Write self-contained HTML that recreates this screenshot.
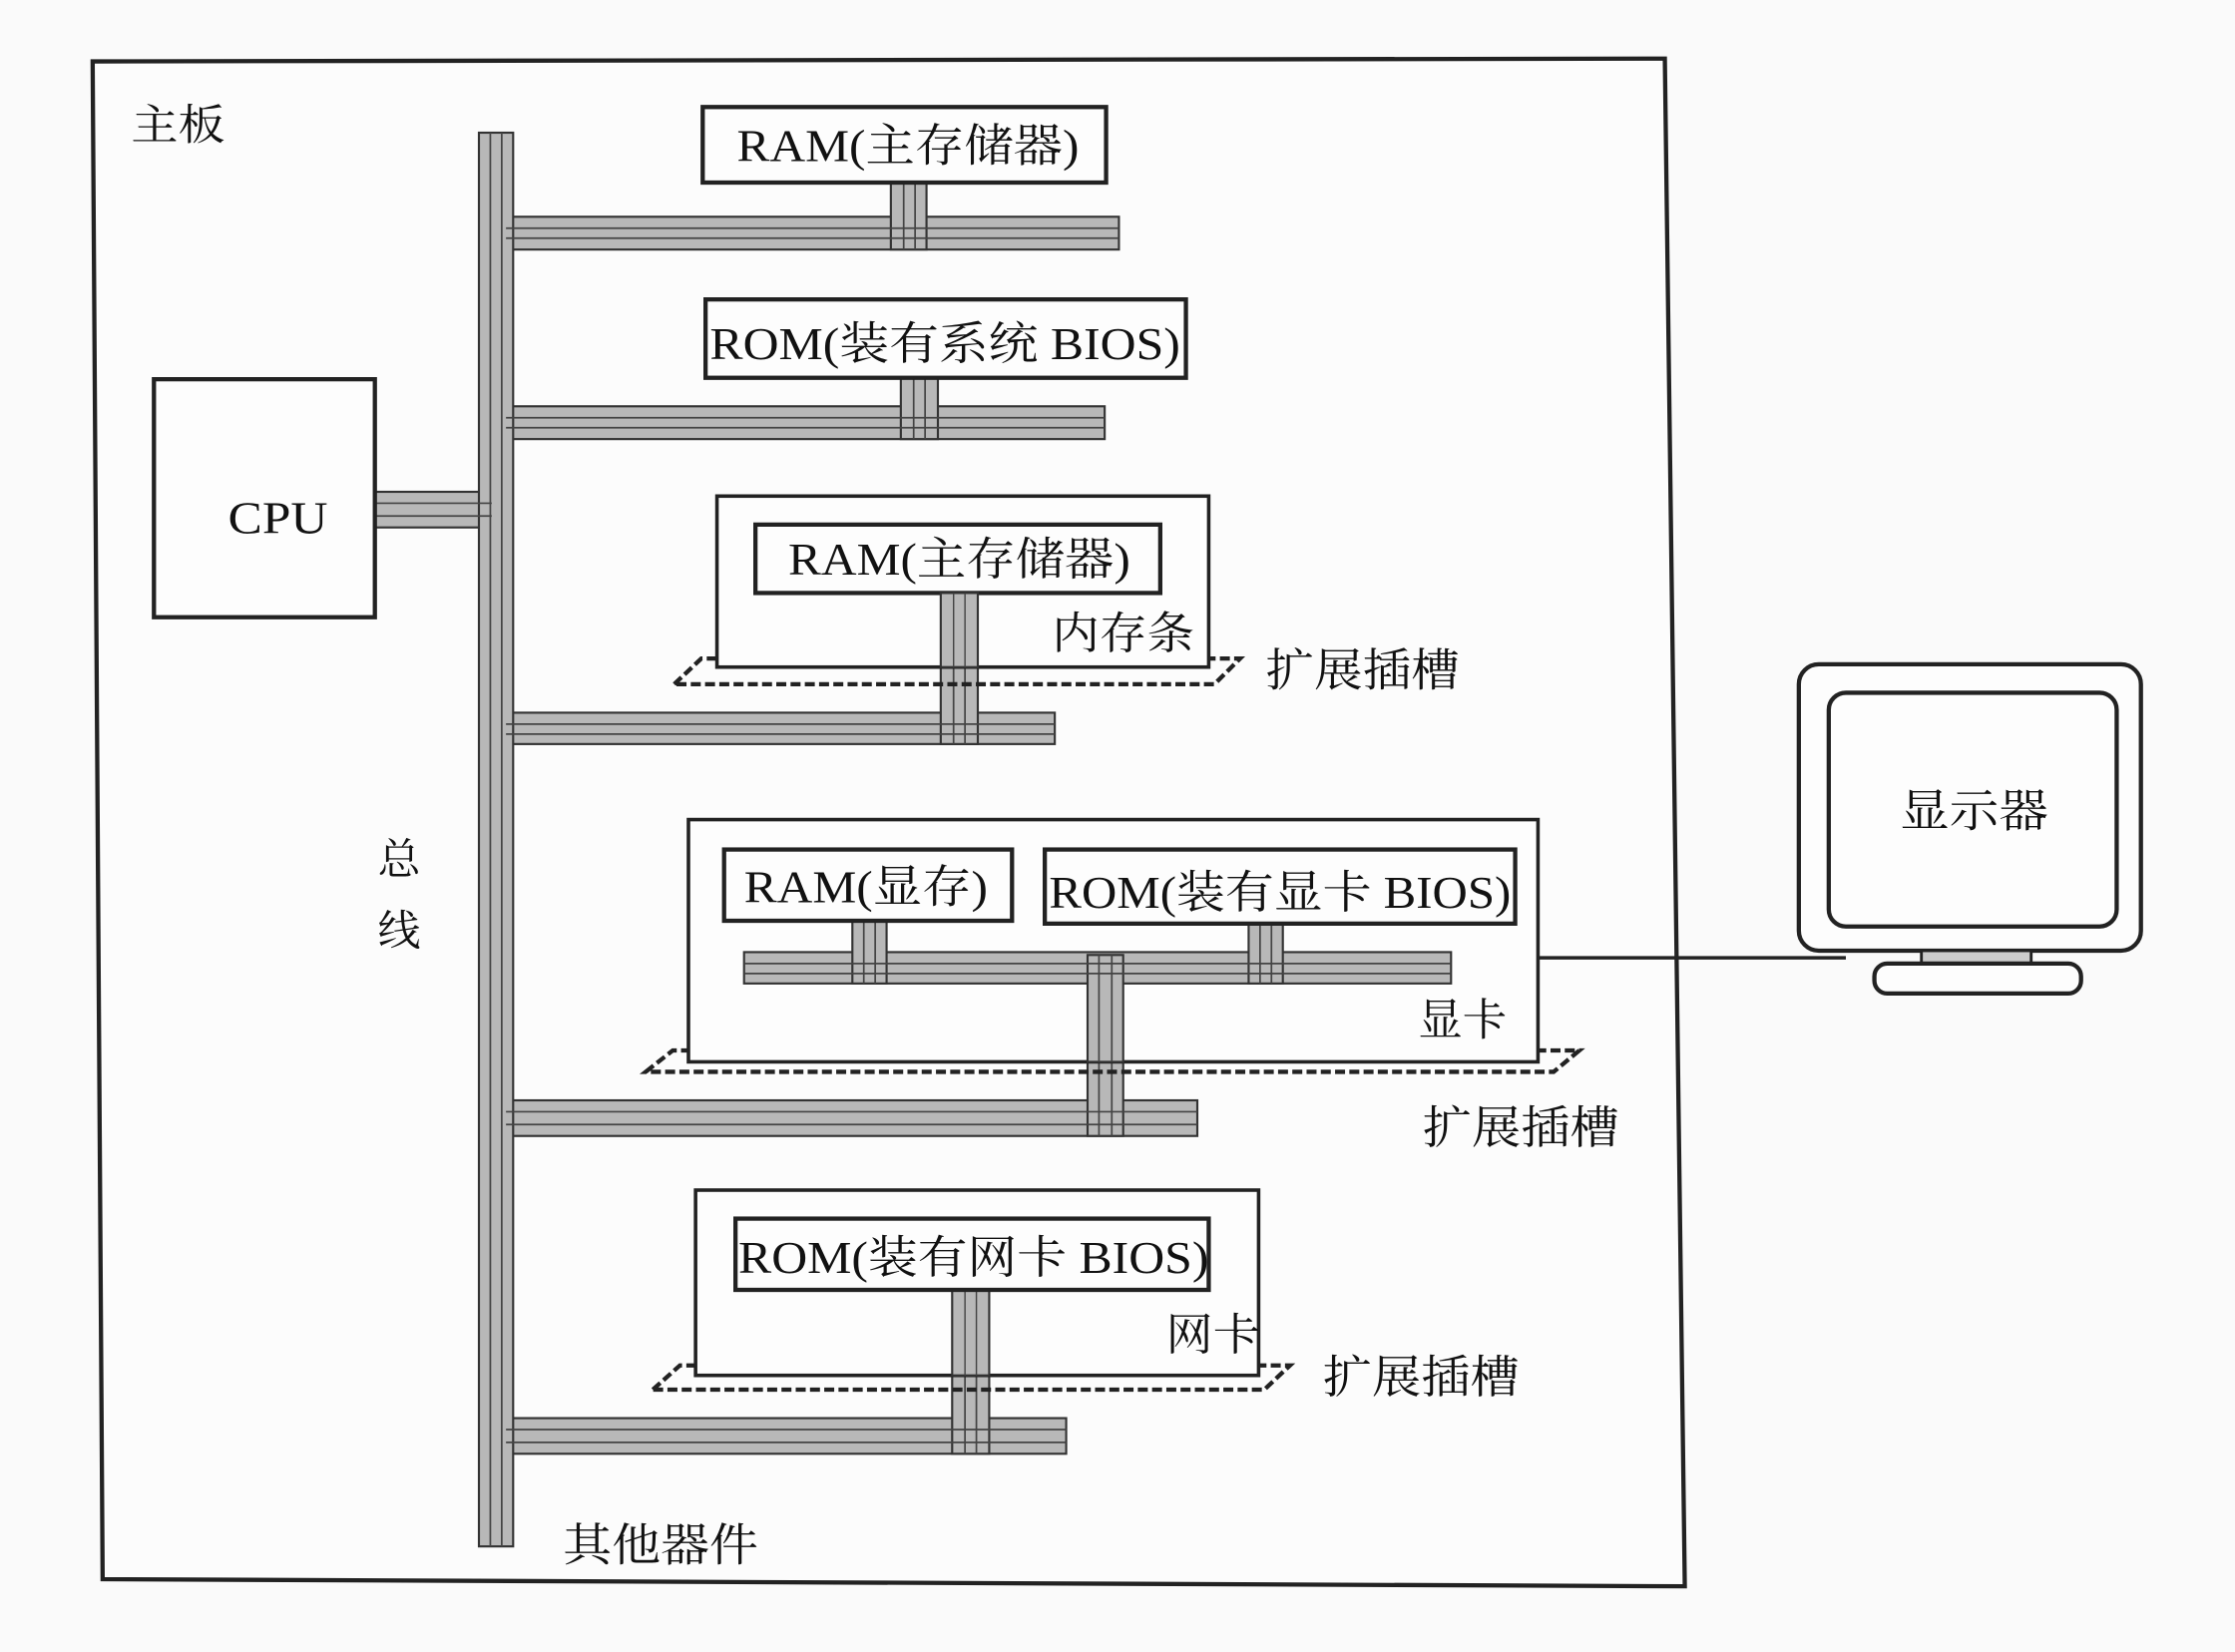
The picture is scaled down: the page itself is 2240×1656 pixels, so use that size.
<!DOCTYPE html>
<html><head><meta charset="utf-8">
<style>
html,body{margin:0;padding:0;background:#fafafa;}
svg{display:block;}
text{font-family:"Liberation Serif","Noto Serif CJK SC",serif;fill:#111;}
</style></head>
<body>
<svg width="2240" height="1656" viewBox="0 0 1568 1159" xmlns="http://www.w3.org/2000/svg">
<rect width="1568" height="1159" fill="#fafafa"/>
<polygon points="65,43 1168,41 1182,1113 72,1108" fill="#fcfcfc" stroke="#222" stroke-width="3"/>
<text x="92" y="98" font-size="30" textLength="66" lengthAdjust="spacingAndGlyphs">主板</text>

<g fill="#b8b8b8" stroke="#333" stroke-width="1.5">
<rect x="355" y="152" width="430" height="23"/>
<rect x="355" y="285" width="420" height="23"/>
<rect x="355" y="500" width="385" height="22"/>
<rect x="355" y="772" width="485" height="25"/>
<rect x="355" y="995" width="393" height="25"/>
<rect x="263" y="345" width="82" height="25"/>
<rect x="625" y="128" width="25" height="47"/>
<rect x="632" y="265" width="26" height="43"/>
<rect x="660" y="416" width="26" height="106"/>
<rect x="763" y="670" width="25" height="127"/>
<rect x="668" y="905" width="26" height="115"/>
<rect x="336" y="93" width="24" height="992"/>
</g>
<g stroke="#444" stroke-width="1.2">
<line x1="355" y1="160" x2="785" y2="160"/><line x1="355" y1="167" x2="785" y2="167"/>
<line x1="355" y1="293" x2="775" y2="293"/><line x1="355" y1="300" x2="775" y2="300"/>
<line x1="355" y1="508" x2="740" y2="508"/><line x1="355" y1="515" x2="740" y2="515"/>
<line x1="355" y1="780" x2="840" y2="780"/><line x1="355" y1="789" x2="840" y2="789"/>
<line x1="355" y1="1003" x2="748" y2="1003"/><line x1="355" y1="1012" x2="748" y2="1012"/>
<line x1="263" y1="353" x2="345" y2="353"/><line x1="263" y1="362" x2="345" y2="362"/>
<line x1="344" y1="93" x2="344" y2="1085"/><line x1="352" y1="93" x2="352" y2="1085"/>
<line x1="634" y1="128" x2="634" y2="175"/><line x1="642" y1="128" x2="642" y2="175"/>
<line x1="641" y1="265" x2="641" y2="308"/><line x1="649" y1="265" x2="649" y2="308"/>
<line x1="669" y1="416" x2="669" y2="522"/><line x1="677" y1="416" x2="677" y2="522"/>
<line x1="771" y1="670" x2="771" y2="797"/><line x1="780" y1="670" x2="780" y2="797"/>
<line x1="677" y1="905" x2="677" y2="1020"/><line x1="685" y1="905" x2="685" y2="1020"/>
</g>

<g fill="#fdfdfd" stroke="#222" stroke-width="3">
<rect x="493" y="75" width="283" height="53"/>
<rect x="495" y="210" width="337" height="55"/>
<rect x="108" y="266" width="155" height="167"/>
</g>
<text x="517" y="113" font-size="32" textLength="240" lengthAdjust="spacingAndGlyphs">RAM(主存储器)</text>
<text x="498" y="252" font-size="32" textLength="330" lengthAdjust="spacingAndGlyphs">ROM(装有系统 BIOS)</text>
<text x="160" y="374" font-size="32" textLength="70" lengthAdjust="spacingAndGlyphs">CPU</text>

<polygon points="473,480 492,462 870,462 852,480" fill="none" stroke="#222" stroke-width="3" stroke-dasharray="7,3"/>
<rect x="503" y="348" width="345" height="120" fill="#fdfdfd" stroke="#222" stroke-width="2.5"/>
<rect x="530" y="368" width="284" height="48" fill="#fdfdfd" stroke="#222" stroke-width="3"/>
<rect x="660" y="416" width="26" height="52" fill="#b8b8b8" stroke="#333" stroke-width="1.5"/>
<line x1="669" y1="416" x2="669" y2="468" stroke="#444"/><line x1="677" y1="416" x2="677" y2="468" stroke="#444"/>
<text x="553" y="403" font-size="32" textLength="240" lengthAdjust="spacingAndGlyphs">RAM(主存储器)</text>
<text x="738" y="455" font-size="31" textLength="100" lengthAdjust="spacingAndGlyphs">内存条</text>
<text x="888" y="481" font-size="32" textLength="136" lengthAdjust="spacingAndGlyphs">扩展插槽</text>

<polygon points="453,752 472,737 1108,737 1090,752" fill="none" stroke="#222" stroke-width="3" stroke-dasharray="7,3"/>
<rect x="483" y="575" width="596" height="170" fill="#fdfdfd" stroke="#222" stroke-width="2.5"/>
<g fill="#b8b8b8" stroke="#333" stroke-width="1.5">
<rect x="522" y="668" width="496" height="22"/>
<rect x="598" y="646" width="24" height="44"/>
<rect x="876" y="648" width="24" height="42"/>
<rect x="763" y="670" width="25" height="75"/>
</g>
<g stroke="#444" stroke-width="1.2">
<line x1="522" y1="676" x2="1018" y2="676"/><line x1="522" y1="683" x2="1018" y2="683"/>
<line x1="606" y1="646" x2="606" y2="690"/><line x1="614" y1="646" x2="614" y2="690"/>
<line x1="884" y1="648" x2="884" y2="690"/><line x1="892" y1="648" x2="892" y2="690"/>
<line x1="771" y1="670" x2="771" y2="745"/><line x1="780" y1="670" x2="780" y2="745"/>
</g>
<rect x="508" y="596" width="202" height="50" fill="#fdfdfd" stroke="#222" stroke-width="3"/>
<rect x="733" y="596" width="330" height="52" fill="#fdfdfd" stroke="#222" stroke-width="3"/>
<text x="522" y="633" font-size="32" textLength="171" lengthAdjust="spacingAndGlyphs">RAM(显存)</text>
<text x="736" y="637" font-size="32" textLength="324" lengthAdjust="spacingAndGlyphs">ROM(装有显卡 BIOS)</text>
<text x="995" y="726" font-size="31" textLength="62" lengthAdjust="spacingAndGlyphs">显卡</text>
<text x="998" y="802" font-size="32" textLength="138" lengthAdjust="spacingAndGlyphs">扩展插槽</text>

<polygon points="458,975 477,958 905,958 887,975" fill="none" stroke="#222" stroke-width="3" stroke-dasharray="7,3"/>
<rect x="488" y="835" width="395" height="130" fill="#fdfdfd" stroke="#222" stroke-width="2.5"/>
<rect x="668" y="905" width="26" height="60" fill="#b8b8b8" stroke="#333" stroke-width="1.5"/>
<line x1="677" y1="905" x2="677" y2="965" stroke="#444"/><line x1="685" y1="905" x2="685" y2="965" stroke="#444"/>
<rect x="516" y="855" width="332" height="50" fill="#fdfdfd" stroke="#222" stroke-width="3"/>
<text x="518" y="893" font-size="32" textLength="330" lengthAdjust="spacingAndGlyphs">ROM(装有网卡 BIOS)</text>
<text x="818" y="947" font-size="31" textLength="66" lengthAdjust="spacingAndGlyphs">网卡</text>
<text x="928" y="977" font-size="32" textLength="138" lengthAdjust="spacingAndGlyphs">扩展插槽</text>

<text x="265" y="613" font-size="30">总</text>
<text x="265" y="663" font-size="30">线</text>
<text x="395" y="1095" font-size="32" textLength="137" lengthAdjust="spacingAndGlyphs">其他器件</text>

<line x1="1079" y1="672" x2="1295" y2="672" stroke="#222" stroke-width="2.5"/>
<rect x="1262" y="466" width="240" height="201" rx="14" fill="#fdfdfd" stroke="#222" stroke-width="3"/>
<rect x="1283" y="486" width="202" height="164" rx="12" fill="#fdfdfd" stroke="#222" stroke-width="3"/>
<rect x="1348" y="667" width="77" height="11" fill="#ccc" stroke="#222" stroke-width="2"/>
<rect x="1315" y="676" width="145" height="21" rx="9" fill="#fdfdfd" stroke="#222" stroke-width="3"/>
<text x="1333" y="580" font-size="32" textLength="104" lengthAdjust="spacingAndGlyphs">显示器</text>
</svg>
</body></html>
